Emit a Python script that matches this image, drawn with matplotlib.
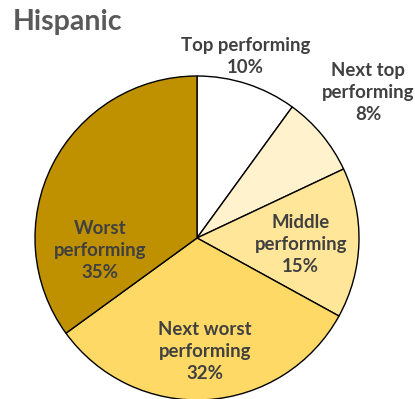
import matplotlib
matplotlib.use("Agg")
import matplotlib.pyplot as plt

# Share of Hispanic students by school performance group
groups = ["Top performing", "Next top\nperforming", "Middle\nperforming",
          "Next worst\nperforming", "Worst\nperforming"]
shares = [10, 8, 15, 32, 35]

colors = ["#FFFFFF", "#FFF2CC", "#FFE699", "#FFD966", "#BF9000"]
# label anchor positions in pie coordinates (radius units)
label_xy = [(0.30, 1.12), (1.055, 0.90), (0.64, -0.04), (0.05, -0.70), (-0.60, -0.08)]

W, H = 415, 399
fig = plt.figure(figsize=(W / 100, H / 100), dpi=100)
fig.patch.set_facecolor("white")

cx, cy, r = 197, 238, 162
ax = fig.add_axes([(cx - r) / W, (H - cy - r) / H, 2 * r / W, 2 * r / H])
ax.pie(shares, colors=colors, startangle=90, counterclock=False,
       wedgeprops=dict(edgecolor="black", linewidth=1.0))
ax.set_xlim(-1, 1)
ax.set_ylim(-1, 1)
ax.set_aspect("equal")
ax.axis("off")

for name, val, (x, y) in zip(groups, shares, label_xy):
    ax.text(x, y, f"{name}\n{val}%", ha="center", va="center",
            fontsize=13.4, fontweight="bold", color="#404040",
            family="Lato", linespacing=1.36, clip_on=False)

fig.text(13 / W, 1 - 22 / H, "Hispanic", ha="left", va="center",
         fontsize=20.5, fontweight="bold", color="#595959", family="Lato")

fig.savefig("out.png", dpi=100, facecolor="white")
